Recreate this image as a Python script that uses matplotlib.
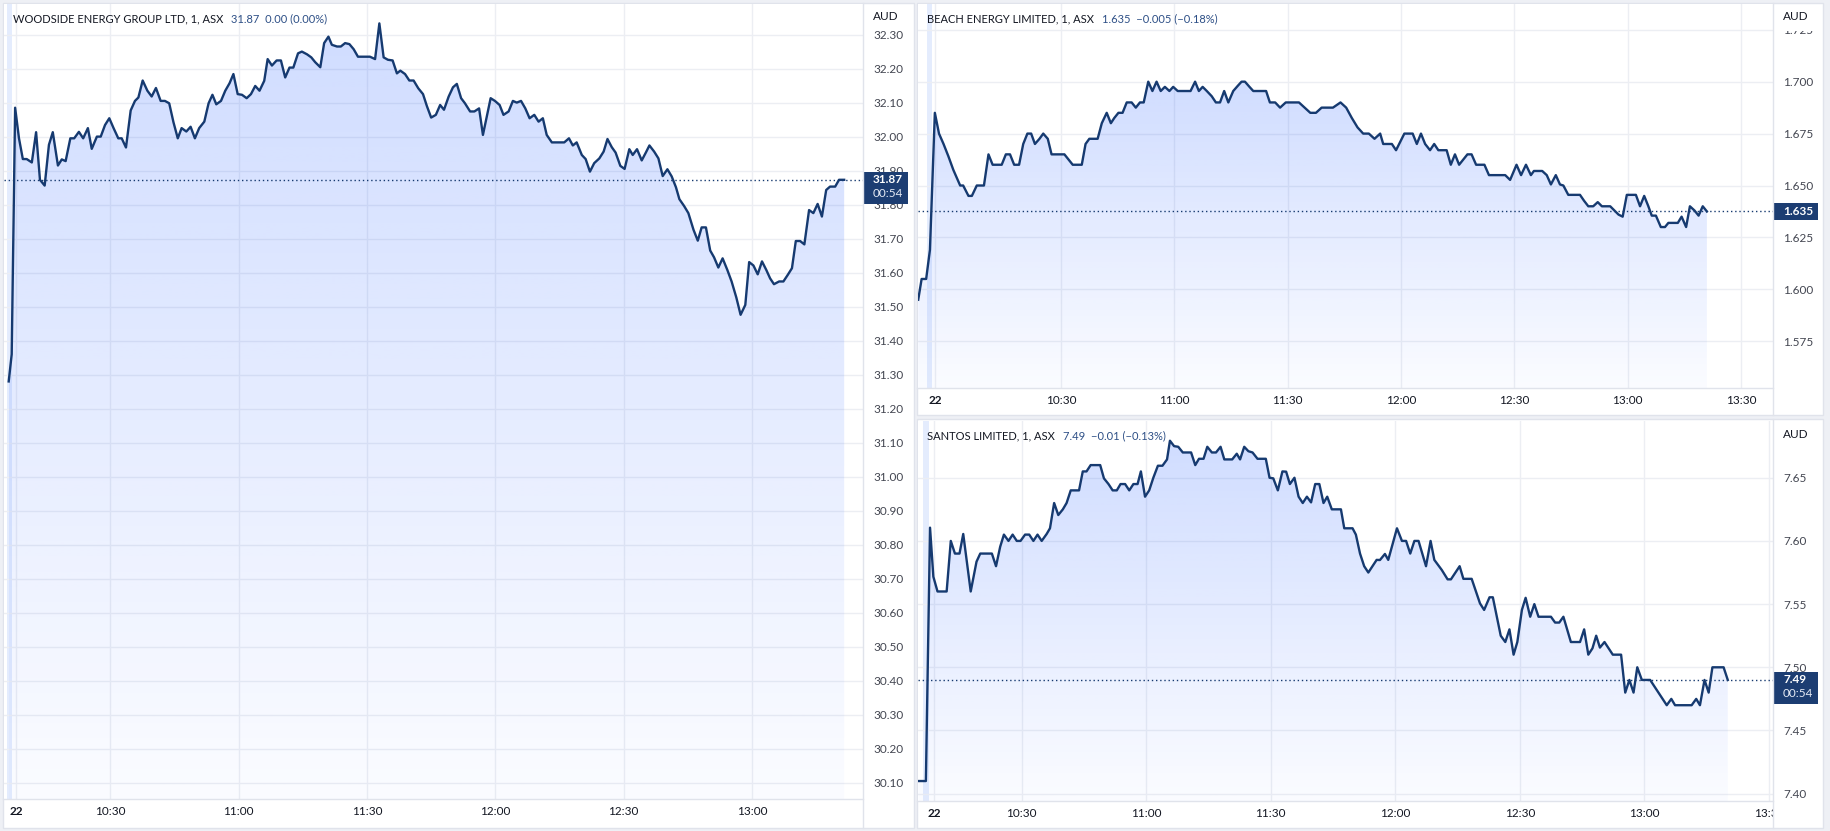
import numpy as np
import matplotlib
matplotlib.use("Agg")
import matplotlib.pyplot as plt
from matplotlib.patches import Rectangle, Polygon
from matplotlib.lines import Line2D
from matplotlib.colors import to_rgb
from matplotlib.transforms import blended_transform_factory, Bbox, TransformedBbox

plt.rcParams['font.family'] = ['Lato', 'DejaVu Sans']

# ---------------- data (minutes after 10:00, price AUD) ----------------
woodside_time = [6.3, 7.0, 7.8, 8.7, 9.6, 10.5, 11.7, 12.7, 13.6, 14.7, 15.7, 16.6, 17.8, 18.7, 19.6,
                 20.7, 21.6, 22.7, 23.7, 24.8, 25.7, 26.9, 27.8, 28.8, 29.8, 30.8, 31.9, 32.7, 33.7,
                 34.8, 35.8, 36.6, 37.6, 38.7, 39.7, 40.7, 41.8, 42.8, 43.8, 44.8, 45.8, 46.7, 47.8,
                 48.8, 49.8, 50.8, 52.0, 53.0, 53.9, 54.8, 55.9, 56.9, 57.9, 58.8, 59.8, 60.8, 61.9,
                 62.9, 63.9, 64.9, 66.0, 66.8, 67.8, 68.9, 69.9, 70.9, 71.9, 72.8, 73.9, 74.8, 76.0,
                 77.0, 77.9, 79.1, 80.0, 81.0, 81.8, 83.0, 83.9, 84.9, 85.9, 86.9, 87.9, 89.0, 90.7,
                 91.9, 92.9, 93.9, 94.9, 96.0, 97.0, 97.8, 98.9, 99.9, 100.9, 102.0, 103.1, 104.0,
                 105.0, 106.1, 107.1, 108.0, 109.1, 110.1, 111.0, 112.0, 112.9, 114.1, 115.1, 116.2,
                 117.1, 118.0, 118.9, 119.9, 121.0, 121.9, 123.1, 124.1, 125.0, 126.0, 127.0, 128.0,
                 129.1, 130.1, 131.1, 132.0, 133.2, 136.1, 137.2, 138.1, 139.0, 140.2, 141.1, 142.1,
                 143.1, 144.3, 145.3, 146.2, 147.2, 148.1, 149.2, 150.2, 151.3, 152.1, 153.1, 154.2,
                 155.2, 156.0, 157.1, 158.1, 159.1, 160.2, 161.2, 162.2, 163.0, 164.1, 165.1, 166.3,
                 167.3, 168.2, 169.2, 170.2, 171.1, 172.1, 173.1, 174.2, 175.2, 176.3, 177.3, 178.4,
                 179.3, 180.3, 181.3, 182.3, 183.3, 184.2, 185.1, 186.3, 187.3, 188.3, 189.3, 190.2,
                 191.2, 192.2, 193.3, 194.3, 195.3, 196.3, 197.3, 198.2, 199.4, 200.3, 201.5]
woodside_price = [31.28, 31.36, 32.085, 31.995, 31.934, 31.934, 31.924, 32.013, 31.873, 31.856, 31.976,
                  32.013, 31.915, 31.933, 31.928, 31.995, 31.995, 32.014, 31.995, 32.025, 31.964,
                  32.000, 32.000, 32.034, 32.054, 32.025, 31.995, 31.995, 31.968, 32.077, 32.105,
                  32.115, 32.165, 32.135, 32.118, 32.143, 32.105, 32.105, 32.098, 32.042, 31.995,
                  32.025, 32.015, 32.029, 31.995, 32.025, 32.044, 32.098, 32.123, 32.095, 32.105,
                  32.135, 32.157, 32.184, 32.125, 32.123, 32.113, 32.125, 32.149, 32.135, 32.164,
                  32.228, 32.209, 32.224, 32.224, 32.174, 32.203, 32.203, 32.245, 32.250, 32.242,
                  32.233, 32.219, 32.204, 32.275, 32.294, 32.270, 32.265, 32.265, 32.275, 32.272,
                  32.257, 32.235, 32.235, 32.235, 32.228, 32.333, 32.233, 32.226, 32.224, 32.186,
                  32.194, 32.184, 32.165, 32.165, 32.142, 32.125, 32.090, 32.056, 32.064, 32.093,
                  32.079, 32.118, 32.145, 32.155, 32.113, 32.098, 32.074, 32.074, 32.083, 32.005,
                  32.059, 32.113, 32.105, 32.093, 32.064, 32.074, 32.105, 32.100, 32.105, 32.083,
                  32.054, 32.064, 32.044, 32.054, 32.005, 31.983, 31.983, 31.995, 31.974, 31.983,
                  31.946, 31.934, 31.897, 31.922, 31.936, 31.956, 31.993, 31.969, 31.953, 31.914,
                  31.905, 31.963, 31.946, 31.963, 31.930, 31.954, 31.974, 31.956, 31.936, 31.884,
                  31.904, 31.883, 31.851, 31.816, 31.796, 31.775, 31.726, 31.694, 31.733, 31.733,
                  31.665, 31.645, 31.615, 31.642, 31.608, 31.574, 31.527, 31.476, 31.505, 31.631,
                  31.621, 31.595, 31.633, 31.608, 31.583, 31.566, 31.574, 31.574, 31.593, 31.613,
                  31.693, 31.693, 31.683, 31.784, 31.775, 31.802, 31.765, 31.843, 31.853, 31.853,
                  31.873, 31.873]

beach_time = [-7.8, -6.9, -5.7, -4.7, -3.4, -2.3, -1.1, 0.2, 1.5, 3.3, 4.1, 5.5, 6.4, 7.7, 9.6, 10.8,
              11.9, 14.3, 15.4, 16.5, 17.6, 18.9, 20.0, 21.1, 22.1, 23.1, 24.3, 25.3, 26.5, 27.5, 30.9,
              32.0, 33.1, 35.5, 36.5, 37.5, 39.7, 40.8, 42.1, 43.2, 44.1, 45.2, 46.3, 47.4, 48.7, 49.8,
              50.9, 51.9, 53.1, 54.2, 55.3, 56.4, 57.5, 58.7, 59.7, 60.9, 64.3, 65.5, 66.5, 67.5, 68.6,
              69.9, 71.0, 72.1, 73.2, 74.3, 75.6, 76.8, 77.8, 78.7, 79.9, 80.9, 84.3, 85.3, 86.7, 88.0,
              89.5, 93.0, 94.5, 96.0, 97.5, 99.0, 102.0, 104.0, 105.5, 107.0, 108.5, 110.0, 111.5,
              113.0, 114.5, 115.3, 117.6, 118.7, 119.8, 120.9, 123.1, 124.2, 125.3, 126.4, 127.7,
              128.8, 129.9, 132.1, 133.2, 134.3, 135.4, 136.5, 137.6, 138.7, 139.9, 142.1, 143.3,
              147.6, 148.9, 150.6, 151.8, 153.1, 154.4, 155.2, 157.4, 158.6, 159.7, 161.0, 162.1,
              163.0, 164.3, 167.4, 168.5, 169.6, 170.9, 172.1, 173.2, 175.4, 176.5, 177.6, 178.7,
              179.8, 182.2, 183.3, 184.4, 185.5, 186.4, 187.5, 188.8, 189.9, 190.8, 193.3, 194.3,
              195.5, 196.5, 197.7, 198.8, 199.9, 201.0]
beach_price = [1.595, 1.605, 1.605, 1.619, 1.685, 1.675, 1.670, 1.664, 1.6575, 1.650, 1.650, 1.645,
               1.645, 1.650, 1.650, 1.665, 1.660, 1.660, 1.665, 1.665, 1.660, 1.660, 1.670, 1.675,
               1.675, 1.670, 1.6725, 1.675, 1.6725, 1.665, 1.665, 1.6625, 1.660, 1.660, 1.670,
               1.6725, 1.6725, 1.680, 1.685, 1.680, 1.6825, 1.685, 1.685, 1.690, 1.690, 1.6875,
               1.690, 1.690, 1.700, 1.6955, 1.700, 1.6955, 1.6975, 1.6955, 1.6975, 1.6955, 1.6955,
               1.700, 1.6955, 1.6975, 1.6955, 1.693, 1.690, 1.690, 1.6955, 1.690, 1.6955, 1.698,
               1.700, 1.700, 1.6975, 1.6955, 1.6955, 1.690, 1.690, 1.6875, 1.690, 1.690, 1.6875,
               1.685, 1.685, 1.6875, 1.6875, 1.690, 1.6875, 1.6825, 1.678, 1.675, 1.675, 1.6725,
               1.675, 1.670, 1.670, 1.667, 1.671, 1.675, 1.675, 1.670, 1.675, 1.670, 1.667, 1.670,
               1.667, 1.667, 1.660, 1.665, 1.660, 1.6625, 1.665, 1.665, 1.660, 1.660, 1.655, 1.655,
               1.6527, 1.660, 1.655, 1.660, 1.655, 1.657, 1.657, 1.655, 1.6505, 1.655, 1.6505,
               1.650, 1.6455, 1.6455, 1.6426, 1.640, 1.640, 1.642, 1.640, 1.640, 1.638, 1.636,
               1.635, 1.6455, 1.6455, 1.640, 1.645, 1.640, 1.6355, 1.6355, 1.630, 1.630, 1.632,
               1.632, 1.635, 1.630, 1.640, 1.638, 1.6355, 1.640, 1.6375]

santos_time = [5.1, 6.9, 7.9, 8.7, 9.7, 11.9, 12.9, 13.9, 15.0, 15.9, 17.7, 19.1, 20.0, 22.8, 23.8,
               24.8, 25.7, 26.8, 27.8, 28.8, 29.7, 30.8, 31.8, 32.8, 33.8, 34.8, 36.0, 36.8, 37.8,
               38.8, 39.9, 40.8, 41.8, 43.8, 44.7, 45.6, 46.6, 48.9, 49.8, 50.9, 51.9, 52.9, 53.8,
               54.9, 55.9, 56.9, 57.9, 58.7, 59.7, 60.7, 61.7, 62.8, 63.9, 65.0, 65.7, 66.7, 67.7,
               68.8, 70.8, 71.8, 72.7, 73.8, 74.7, 75.8, 76.8, 77.9, 78.8, 80.7, 81.8, 82.6, 83.6,
               84.6, 85.6, 86.8, 88.8, 89.7, 90.6, 91.7, 92.8, 93.7, 94.6, 95.7, 96.7, 97.7, 98.7,
               99.7, 100.7, 101.7, 102.7, 103.6, 104.7, 106.9, 107.7, 109.7, 110.5, 111.5, 112.5,
               113.5, 114.5, 115.5, 116.3, 117.5, 118.3, 120.4, 121.6, 122.6, 123.6, 124.6, 125.6,
               127.4, 128.5, 129.4, 131.2, 132.6, 133.4, 135.5, 136.4, 138.4, 140.4, 141.4, 142.7,
               143.5, 145.4, 146.5, 147.5, 148.5, 149.4, 150.5, 151.4, 152.5, 153.5, 154.5, 157.5,
               158.5, 159.5, 160.5, 162.3, 164.5, 165.5, 166.5, 167.5, 168.4, 169.3, 170.4, 172.4,
               174.4, 175.4, 176.4, 177.4, 178.3, 179.4, 181.4, 183.4, 185.4, 186.5, 187.4, 191.4,
               192.5, 193.4, 194.5, 195.5, 196.4, 199.1, 200.1]
santos_price = [7.410, 7.410, 7.6105, 7.5717, 7.560, 7.560, 7.600, 7.590, 7.590, 7.6055, 7.560, 7.5836,
                7.590, 7.590, 7.580, 7.5954, 7.605, 7.600, 7.605, 7.600, 7.600, 7.605, 7.605, 7.600,
                7.605, 7.600, 7.6055, 7.610, 7.630, 7.6205, 7.625, 7.630, 7.640, 7.640, 7.655, 7.655,
                7.660, 7.660, 7.6495, 7.645, 7.640, 7.640, 7.645, 7.645, 7.640, 7.645, 7.645, 7.655,
                7.635, 7.640, 7.650, 7.6595, 7.6595, 7.6645, 7.6793, 7.675, 7.6745, 7.670, 7.670,
                7.660, 7.665, 7.665, 7.6745, 7.670, 7.670, 7.6745, 7.6645, 7.6645, 7.669, 7.6645,
                7.6745, 7.671, 7.670, 7.665, 7.665, 7.650, 7.6495, 7.640, 7.655, 7.6548, 7.645, 7.650,
                7.635, 7.630, 7.635, 7.6305, 7.645, 7.645, 7.630, 7.635, 7.625, 7.625, 7.610, 7.610,
                7.605, 7.590, 7.580, 7.575, 7.580, 7.585, 7.5849, 7.5897, 7.585, 7.610, 7.600, 7.600,
                7.590, 7.600, 7.600, 7.580, 7.600, 7.585, 7.577, 7.5696, 7.5696, 7.580, 7.570, 7.570,
                7.5506, 7.5454, 7.5554, 7.5554, 7.525, 7.520, 7.530, 7.510, 7.520, 7.5454, 7.555,
                7.540, 7.550, 7.540, 7.540, 7.5354, 7.5354, 7.540, 7.520, 7.520, 7.530, 7.510, 7.515,
                7.525, 7.5156, 7.520, 7.510, 7.510, 7.480, 7.490, 7.480, 7.500, 7.490, 7.490, 7.480,
                7.470, 7.475, 7.470, 7.470, 7.475, 7.470, 7.490, 7.480, 7.500, 7.500, 7.490]

time_ticks = [30, 60, 90, 120, 150, 180, 210]
time_labels = ['10:30', '11:00', '11:30', '12:00', '12:30', '13:00', '13:30']
woodside_yticks = [round(30.10 + 0.10 * i, 2) for i in range(23)]
beach_yticks = [1.575, 1.600, 1.625, 1.650, 1.675, 1.700, 1.725]
santos_yticks = [7.40, 7.45, 7.50, 7.55, 7.60, 7.65]

# ---------------- style ----------------
W, H = 1830, 831
NAVY = '#163a70'
BOXNAVY = '#1c3d72'
VALBLUE = '#2d4f86'
TEXT = '#131722'
TICKTXT = '#434651'
GRID = '#eceef3'
BORDER = '#e0e3eb'
BAND = '#e4ecfd'
FILL = '#2962ff'

fig = plt.figure(figsize=(W / 100, H / 100), dpi=100, facecolor='#eef0f5')

panels = [
    dict(title='WOODSIDE ENERGY GROUP LTD, 1, ASX', vals='31.87  0.00 (0.00%)',
         t=woodside_time, p=woodside_price, frame=(3, 3, 914, 828), plot=(4, 4, 863, 799),
         xlim=(5.2, 205.9), ylim=(30.052, 32.390), yticks=woodside_yticks, yfmt='{:.2f}',
         day=8.0, nticks=6, band=(5.9, 7.1), label='31.87', timer='00:54'),
    dict(title='BEACH ENERGY LIMITED, 1, ASX', vals='1.635  \u22120.005 (\u22120.18%)',
         t=beach_time, p=beach_price, frame=(917, 3, 1823, 415), plot=(918, 4, 1773, 388),
         xlim=(-7.86, 218.5), ylim=(1.5525, 1.7374), yticks=beach_yticks, yfmt='{:.3f}',
         day=-3.4, nticks=7, band=(-5.5, -4.15), label='1.635', timer=None),
    dict(title='SANTOS LIMITED, 1, ASX', vals='7.49  \u22120.01 (\u22120.13%)',
         t=santos_time, p=santos_price, frame=(917, 419, 1823, 828), plot=(918, 421, 1773, 801),
         xlim=(5.0, 211.0), ylim=(7.3942, 7.6949), yticks=santos_yticks, yfmt='{:.2f}',
         day=8.9, nticks=7, band=(6.2, 7.6), label='7.49', timer='00:54'),
]

FS = 8.5
TFS = 8.0
renderer = fig.canvas.get_renderer()

for P in panels:
    fx0, fy0, fx1, fy1 = P['frame']
    px0, py0, px1, py1 = P['plot']
    fig.add_artist(Rectangle((fx0 / W, 1 - fy1 / H), (fx1 - fx0) / W, (fy1 - fy0) / H,
                             transform=fig.transFigure, fc='white', ec=BORDER, lw=1, zorder=-10))
    ax = fig.add_axes([px0 / W, 1 - py1 / H, (px1 - px0) / W, (py1 - py0) / H])
    ax.set_facecolor('white')
    for s in ax.spines.values():
        s.set_visible(False)

    t = np.asarray(P['t'], float)
    p = np.asarray(P['p'], float)
    ylo, yhi = P['ylim']
    dpy = (yhi - ylo) / (py1 - py0)  # data units per pixel

    # grid / ticks
    xt = [P['day']] + time_ticks[:P['nticks']]
    xl = ['22'] + time_labels[:P['nticks']]
    ax.set_xticks(xt, labels=xl)
    ax.yaxis.tick_right()
    ax.set_yticks(P['yticks'], labels=[P['yfmt'].format(v) for v in P['yticks']])
    ax.tick_params(axis='x', length=0, pad=5, labelsize=FS, labelcolor=TEXT)
    ax.tick_params(axis='y', length=0, pad=7.2, labelsize=FS, labelcolor=TICKTXT)
    ax.grid(True, color=GRID, lw=1)
    ax.set_axisbelow(True)
    clipbox = TransformedBbox(Bbox([[0, -1], [1, 2]]), ax.transAxes)
    labs = ax.get_xticklabels()
    labs[0].set_fontweight('bold')
    for lab in labs:
        lab.set_clip_on(True)
        lab.set_clip_box(clipbox)

    ax.axvspan(*P['band'], color=BAND, lw=0, zorder=0.5)

    # gradient area fill
    n = 256
    rgba = np.zeros((n, 1, 4))
    rgba[..., :3] = to_rgb(FILL)
    rgba[:, 0, 3] = np.linspace(0.22, 0.02, n)
    im = ax.imshow(rgba, extent=[t[0], t[-1], ylo, p.max()], origin='upper', aspect='auto',
                   interpolation='bilinear', zorder=1)
    verts = np.column_stack([np.r_[t[0], t, t[-1]], np.r_[ylo, p, ylo]])
    poly = Polygon(verts, closed=True, fc='none', ec='none')
    ax.add_patch(poly)
    im.set_clip_path(poly)

    ax.plot(t, p, color=NAVY, lw=1.7, solid_joinstyle='round', zorder=3)
    ax.axhline(p[-1], color=NAVY, lw=1, ls=(0, (1, 2)), zorder=2.5)

    ax.set_xlim(*P['xlim'])
    ax.set_ylim(ylo, yhi)

    # last price box on the scale
    bt = blended_transform_factory(ax.transAxes, ax.transData)
    wfrac = 45 / (px1 - px0)
    if P['timer']:
        top, bot = p[-1] + 8 * dpy, p[-1] - 24 * dpy
    else:
        top, bot = p[-1] + 8.5 * dpy, p[-1] - 8.5 * dpy
    ax.add_patch(Rectangle((1, bot), wfrac, top - bot, transform=bt, fc=BOXNAVY, ec=BOXNAVY,
                           lw=0, clip_on=False, zorder=10))
    xtxt = 1 + 10 / (px1 - px0)
    ax.text(xtxt, p[-1], P['label'], transform=bt, ha='left', va='center', color='white',
            fontsize=FS, fontweight='bold', zorder=11, clip_on=False)
    if P['timer']:
        ax.text(xtxt, p[-1] - 14 * dpy, P['timer'], transform=bt, ha='left', va='center',
                color='#e6ebf5', fontsize=FS, zorder=11, clip_on=False)

    # separators
    fig.add_artist(Line2D([px1 / W, px1 / W], [1 - fy0 / H, 1 - fy1 / H], color=BORDER, lw=1, zorder=5))
    fig.add_artist(Line2D([fx0 / W, px1 / W], [1 - py1 / H, 1 - py1 / H], color=BORDER, lw=1, zorder=5))

    # AUD header (covers clipped top tick)
    fig.add_artist(Rectangle(((px1 + 1) / W, 1 - (py0 + 27) / H), (fx1 - px1 - 2) / W, 26 / H,
                             transform=fig.transFigure, fc='white', ec='none', zorder=4))
    fig.text((px1 + 10) / W, 1 - (py0 + 13) / H, 'AUD', ha='left', va='center',
             fontsize=FS, color=TEXT, zorder=6)

    # title + values
    t1 = fig.text((px0 + 9) / W, 1 - (py0 + 15) / H, P['title'], ha='left', va='center',
                  fontsize=TFS, color=TEXT, zorder=6)
    bb = t1.get_window_extent(renderer=renderer)
    fig.text((bb.x1 + 8) / W, 1 - (py0 + 15) / H, P['vals'], ha='left', va='center',
             fontsize=TFS, color=VALBLUE, zorder=6)

fig.savefig('out.png', dpi=100, facecolor=fig.get_facecolor())
